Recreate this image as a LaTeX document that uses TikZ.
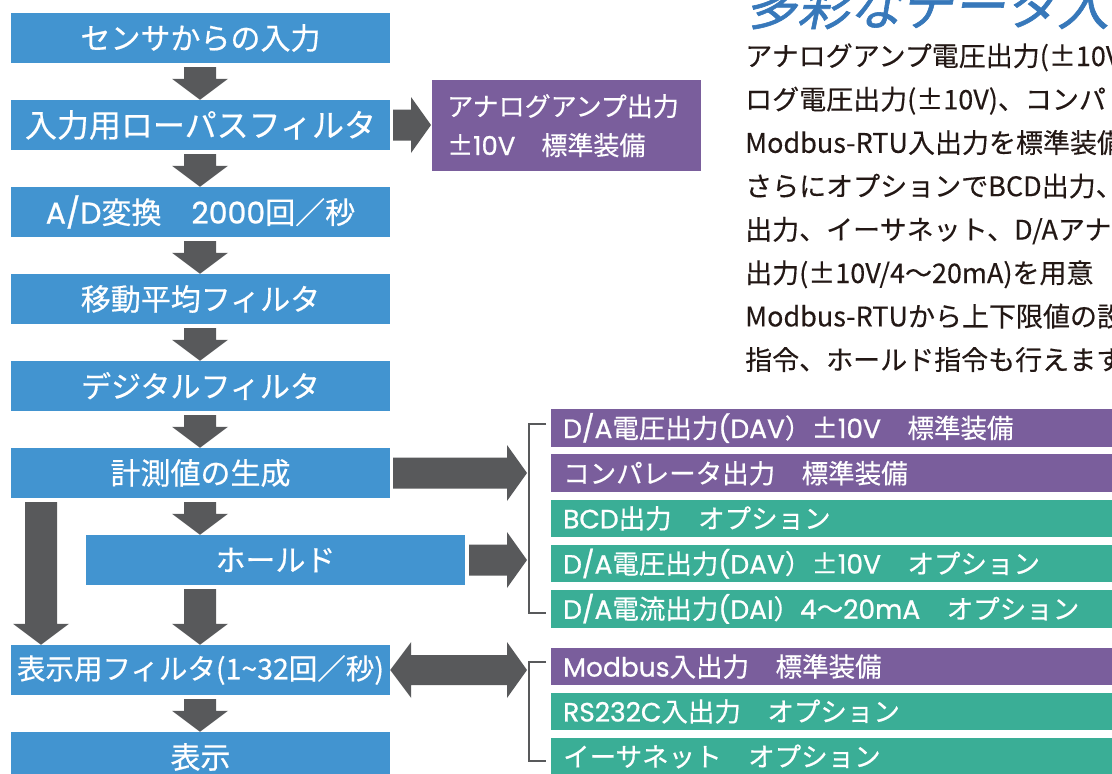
\documentclass[tikz,border=0pt]{standalone}
\usepackage{fontspec}
\setmainfont{Noto Sans CJK JP}
\newfontfamily\titlefont[FakeSlant=0.2,FakeBold=1.2]{Noto Sans CJK JP}
\newfontfamily\boxfont[FakeBold=0.5]{Noto Sans CJK JP}
\newfontfamily\bodyfont[FakeBold=0.3]{Noto Sans CJK JP}
\newfontfamily\latfont[FakeBold=0.9]{Poppins}
\newcommand\lat[1]{{\latfont #1}}
\usetikzlibrary{calc}
\definecolor{boxblue}{RGB}{66,148,208}
\definecolor{boxpurple}{RGB}{122,94,156}
\definecolor{boxgreen}{RGB}{58,174,150}
\definecolor{arrowgray}{RGB}{88,89,91}
\definecolor{titleblue}{RGB}{55,120,186}
\definecolor{bodytext}{RGB}{35,24,21}
\tikzset{
  lbox/.style={fill=boxblue, text=white, minimum width=379pt, minimum height=50pt,
    inner sep=0pt, font=\boxfont\fontsize{30}{36}\selectfont},
  rbox/.style={anchor=west, text=white, text width=576pt, inner xsep=12pt, inner ysep=0pt,
    minimum height=37.6pt, align=left, font=\boxfont\fontsize{26.5}{30}\selectfont},
  std/.style={rbox, fill=boxpurple},
  opt/.style={rbox, fill=boxgreen},
  arrowfill/.style={fill=arrowgray},
  bracket/.style={draw=arrowgray, line width=2.5pt},
  bodyline/.style={anchor=base west, inner sep=0pt, text=bodytext, font=\bodyfont\fontsize{27}{30}\selectfont},
}
% vertical block arrow: source node, target node, x position (pt)
\newcommand\vblockarrow[3]{%
  \fill[arrowfill] let \p1=(#1.south), \p2=(#2.north) in
    ({#3pt-16pt},{\y1-4pt}) -- ({#3pt+16pt},{\y1-4pt}) -- ({#3pt+16pt},{\y2+21pt})
    -- ({#3pt+28pt},{\y2+21pt}) -- ({#3pt},{\y2}) -- ({#3pt-28pt},{\y2+21pt})
    -- ({#3pt-16pt},{\y2+21pt}) -- cycle;}
% horizontal block arrow: source node, target coordinate, gap
\newcommand\hblockarrow[3]{%
  \fill[arrowfill] let \p1=(#1.east), \p2=(#2) in
    ({\x1+#3},{\y1+15.5pt}) -- ({\x2-20pt},{\y1+15.5pt}) -- ({\x2-20pt},{\y1+28pt})
    -- ({\x2},{\y1}) -- ({\x2-20pt},{\y1-28pt}) -- ({\x2-20pt},{\y1-15.5pt})
    -- ({\x1+#3},{\y1-15.5pt}) -- cycle;}
\begin{document}
\begin{tikzpicture}[x=1pt,y=-1pt]
\useasboundingbox (0,0) rectangle (1112,774);
\clip (0,0) rectangle (1112,774);

% left flow
\node[lbox] (in)    at (200.5,38)  {センサからの入力};
\node[lbox, font=\boxfont\fontsize{32}{36}\selectfont] (lpf) at (200.5,125) {入力用ローパスフィルタ};
\node[lbox] (ad)    at (200.5,212) {\lat{A/D}変換　\lat{2000}回／秒};
\node[lbox] (ma)    at (200.5,299) {移動平均フィルタ};
\node[lbox] (dig)   at (200.5,386) {デジタルフィルタ};
\node[lbox] (meas)  at (200.5,473) {計測値の生成};
\node[lbox] (hold)  at (275.5,560) {ホールド};
\node[lbox, font=\boxfont\fontsize{28.5}{34}\selectfont] (dfilt) at (200.5,670) {表示用フィルタ(1\string~32回／秒)};
\node[lbox] (disp)  at (200.5,757) {表示};

% analog amp output
\node[anchor=north west, fill=boxpurple, text=white, minimum height=91pt, text width=239pt,
  inner xsep=15pt, inner ysep=0pt, align=left, font=\boxfont\fontsize{26}{39}\selectfont]
  (amp) at (432,80) {アナログアンプ出力\\±\lat{10V}　標準装備};

% right outputs
\node[std] (r1) at (551,428)   {\lat{D/A}電圧出力\lat{(DAV}）±\lat{10V}　標準装備};
\node[std] (r2) at (551,473.2) {コンパレータ出力　標準装備};
\node[opt] (r3) at (551,518.4) {\lat{BCD}出力　オプション};
\node[opt] (r4) at (551,563.6) {\lat{D/A}電圧出力\lat{(DAV}）±\lat{10V}　オプション};
\node[opt] (r5) at (551,608.8) {\lat{D/A}電流出力\lat{(DAI}）\lat{4}〜\lat{20mA}　オプション};
\node[std] (r6) at (551,666.5) {\lat{Modbus}入出力　標準装備};
\node[opt] (r7) at (551,711.5) {\lat{RS232C}入出力　オプション};
\node[opt] (r8) at (551,756.5) {イーサネット　オプション};

% brackets
\draw[bracket] ([shift={(-5pt,4pt)}]r1.west) -- ++(-17pt,0pt) |- ([shift={(-5pt,-4pt)}]r5.west);
\draw[bracket] ([shift={(-5pt,4.5pt)}]r6.west) -- ++(-17pt,0pt) |- ([shift={(-5pt,-4.5pt)}]r8.west);
\coordinate (br1) at ([xshift=-24pt]r2.west);
\coordinate (br2) at ([xshift=-24pt]r4.west);
\coordinate (br3) at ([xshift=-24pt]r6.west);
\coordinate (ampin) at ([xshift=-1pt]amp.west);

% vertical arrows
\vblockarrow{in}{lpf}{200}
\vblockarrow{lpf}{ad}{200}
\vblockarrow{ad}{ma}{200}
\vblockarrow{ma}{dig}{200}
\vblockarrow{dig}{meas}{200}
\vblockarrow{meas}{hold}{200}
\vblockarrow{hold}{dfilt}{200}
\vblockarrow{meas}{dfilt}{41}
\vblockarrow{dfilt}{disp}{200}

% horizontal arrows
\hblockarrow{lpf}{ampin}{3pt}
\hblockarrow{meas}{br1}{3pt}
\hblockarrow{hold}{br2}{4pt}
\fill[arrowfill] let \p1=(dfilt.east), \p2=(br3) in
  (\x1,\y1) -- ({\x1+21pt},{\y1+28pt}) -- ({\x1+21pt},{\y1+15pt}) -- ({\x2-20pt},{\y1+15pt})
  -- ({\x2-20pt},{\y1+28pt}) -- (\x2,\y1) -- ({\x2-20pt},{\y1-28pt}) -- ({\x2-20pt},{\y1-15pt})
  -- ({\x1+21pt},{\y1-15pt}) -- ({\x1+21pt},{\y1-28pt}) -- cycle;

% title and description
\node[anchor=base west, inner sep=0pt, text=titleblue, font=\titlefont\fontsize{52}{52}\selectfont]
  (title) at (745,25) {多彩なデータ入};
\node[bodyline] (p1) at (745,66)    {アナログアンプ電圧出力(±10V)};
\node[bodyline] (p2) at (745,109.4) {ログ電圧出力(±10V)、コンパ};
\node[bodyline] (p3) at (745,152.8) {Modbus-RTU入出力を標準装備};
\node[bodyline] (p4) at (745,196.2) {さらにオプションでBCD出力、};
\node[bodyline] (p5) at (745,239.6) {出力、イーサネット、D/Aアナロ};
\node[bodyline] (p6) at (745,283)   {出力(±10V/4〜20mA)を用意};
\node[bodyline] (p7) at (745,326.4) {Modbus-RTUから上下限値の設};
\node[bodyline] (p8) at (745,369.8) {指令、ホールド指令も行えます};
\end{tikzpicture}
\end{document}
